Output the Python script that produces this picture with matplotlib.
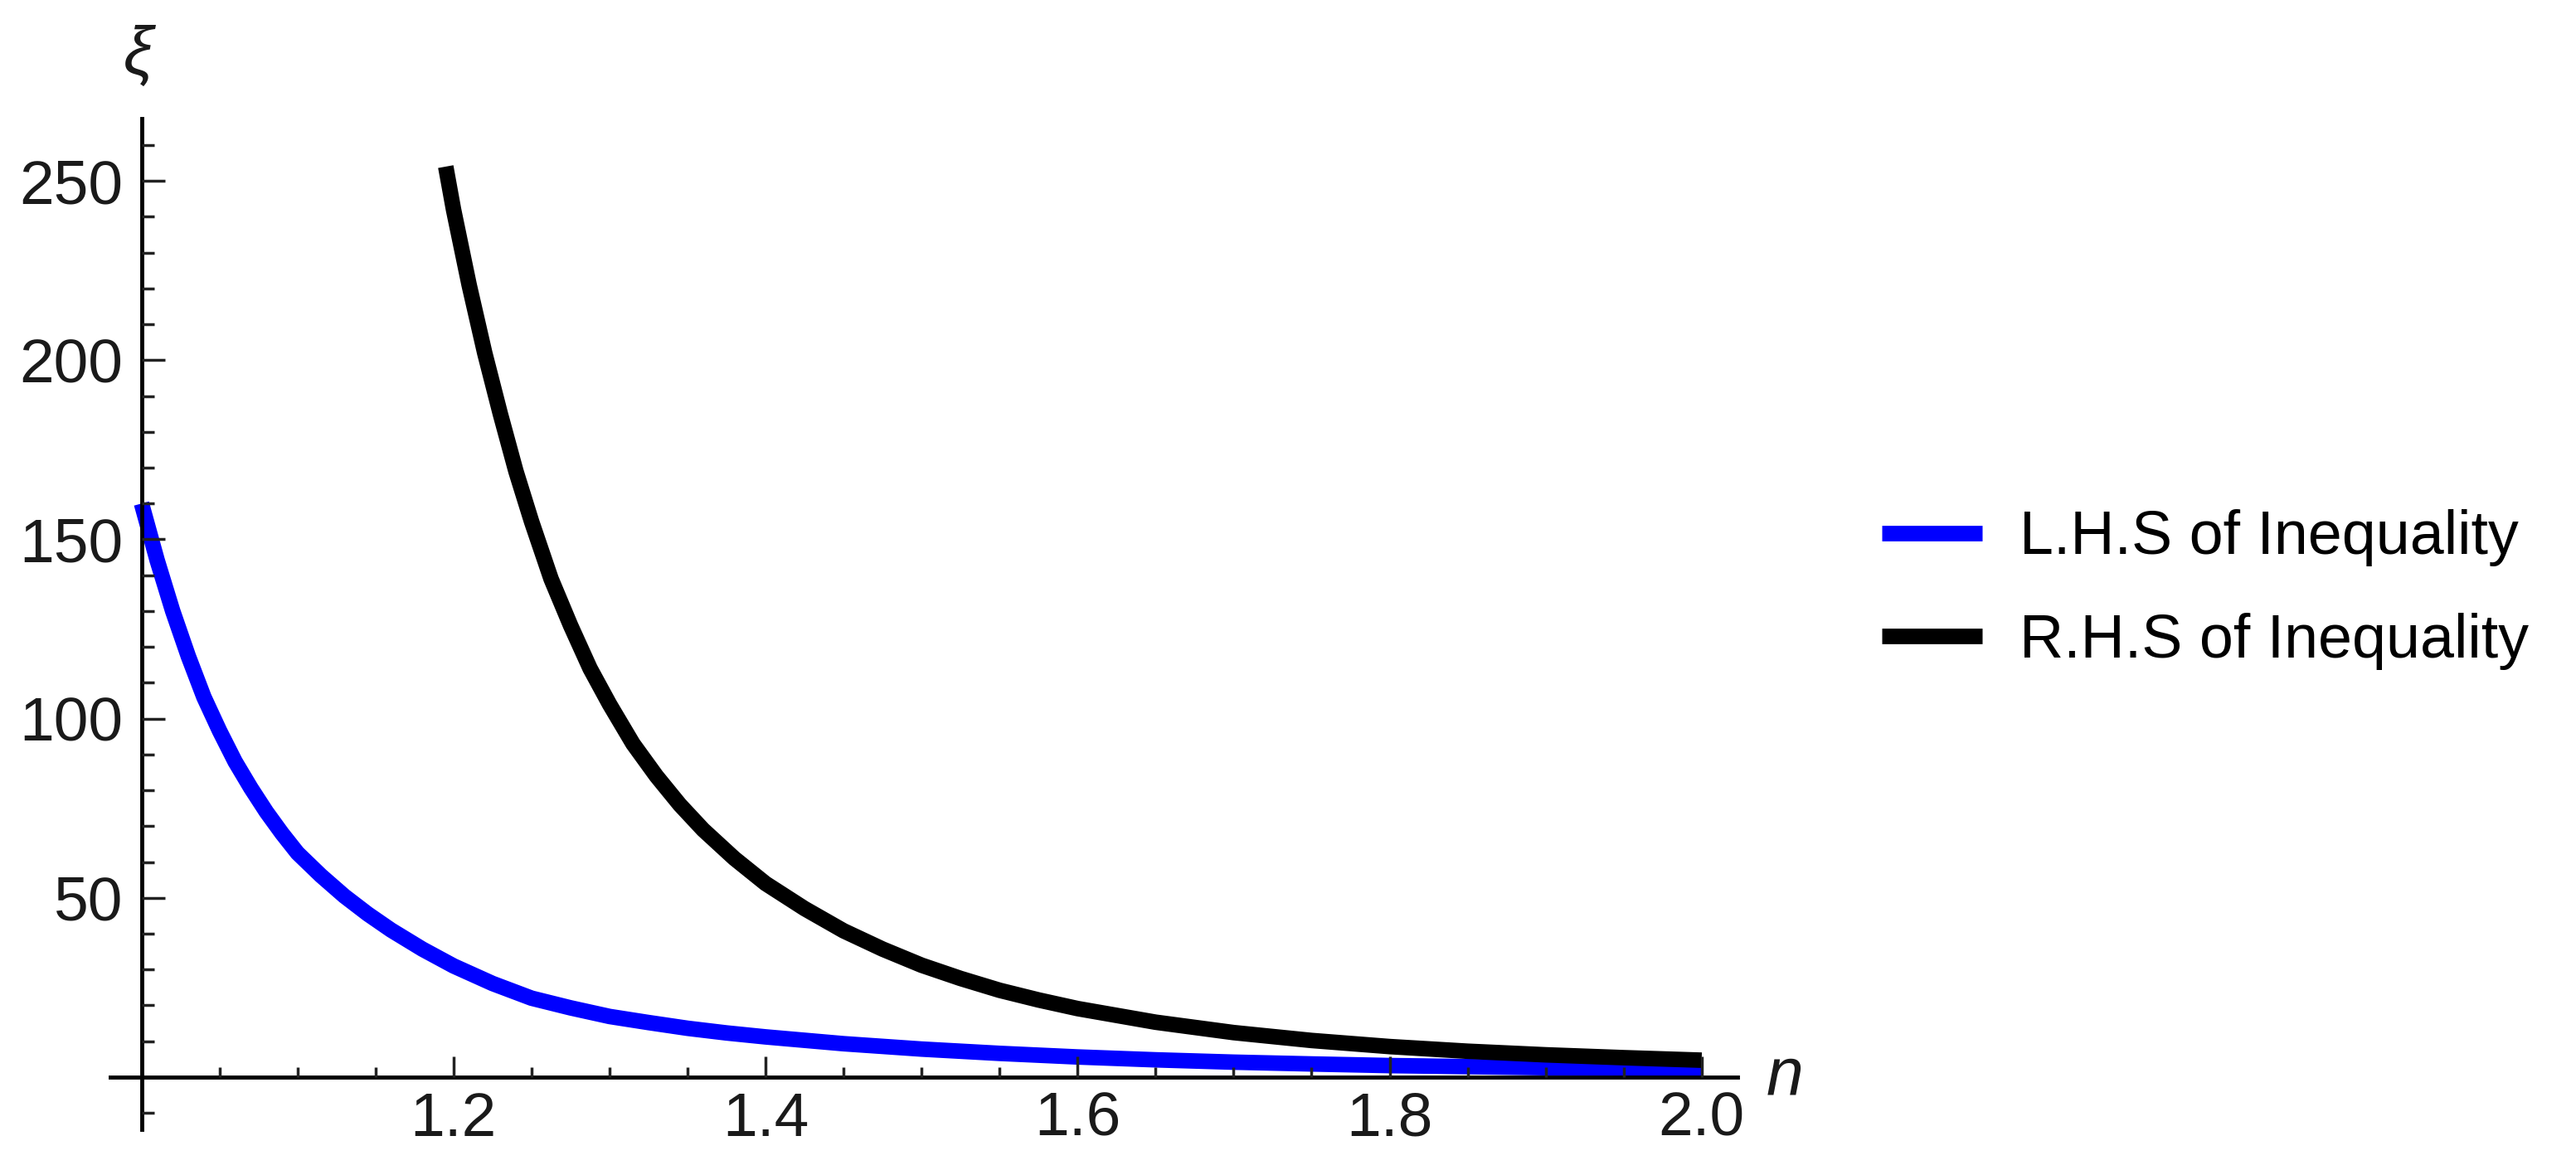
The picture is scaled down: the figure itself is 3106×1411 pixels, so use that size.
import matplotlib
matplotlib.use("Agg")
import matplotlib.pyplot as plt

# curve samples (n, xi)
n_lhs = [1.00, 1.01, 1.02, 1.03, 1.04, 1.05, 1.06, 1.07, 1.08, 1.09, 1.10, 1.115, 1.13,
         1.145, 1.16, 1.18, 1.20, 1.225, 1.25, 1.275, 1.30, 1.325, 1.35, 1.375, 1.40,
         1.45, 1.50, 1.55, 1.60, 1.65, 1.70, 1.75, 1.80, 1.85, 1.90, 1.95, 2.00]
xi_lhs = [160, 144.2, 130, 117.4, 106, 96.6, 88, 80.7, 74, 68.0, 62.5, 56.2, 50.5,
          45.5, 41.0, 35.7, 31.0, 26.1, 22.0, 19.3, 16.9, 15.2, 13.6, 12.3, 11.2,
          9.3, 7.8, 6.6, 5.6, 4.8, 4.15, 3.65, 3.2, 2.9, 2.6, 2.4, 2.2]
n_rhs = [1.195, 1.20, 1.21, 1.22, 1.23, 1.24, 1.25, 1.2625, 1.275, 1.2875, 1.30, 1.315,
         1.33, 1.345, 1.36, 1.38, 1.40, 1.425, 1.45, 1.475, 1.50, 1.525, 1.55, 1.575,
         1.60, 1.65, 1.70, 1.75, 1.80, 1.85, 1.90, 1.95, 2.00]
xi_rhs = [254, 242, 221, 202, 185, 169, 155, 139, 126, 114, 104, 93,
          84, 76, 69, 61, 54, 47.0, 40.8, 35.7, 31.2, 27.5, 24.2, 21.5,
          19.1, 15.3, 12.4, 10.2, 8.5, 7.2, 6.2, 5.4, 4.7]
labels = ["L.H.S of Inequality", "R.H.S of Inequality"]
x_major = [1.2, 1.4, 1.6, 1.8, 2.0]
x_minor = [1.05, 1.10, 1.15, 1.25, 1.30, 1.35, 1.45, 1.50, 1.55, 1.65, 1.70, 1.75, 1.85, 1.90, 1.95]
y_major = [50, 100, 150, 200, 250]
y_minor = [-10, 10, 20, 30, 40, 60, 70, 80, 90, 110, 120, 130, 140, 160, 170, 180, 190,
           210, 220, 230, 240, 260]

plt.rcParams["font.family"] = ["Liberation Sans", "DejaVu Sans"]
fig = plt.figure(figsize=(31.06, 14.11), dpi=100)
ax = fig.add_axes([133/3106, 1 - 1362/1411, (2095-133)/3106, (1362-143)/1411])

ax.plot(n_lhs, xi_lhs, color="#0000ff", lw=13.5, solid_capstyle="butt",
        solid_joinstyle="round", label=labels[0])
ax.plot(n_rhs, xi_rhs, color="black", lw=13.5, solid_capstyle="butt",
        solid_joinstyle="round", label=labels[1])

ax.set_xlim(0.98, 2.023)
ax.set_ylim(-14.6, 267.4)
for s in ["top", "right"]:
    ax.spines[s].set_visible(False)
ax.spines["left"].set_position(("data", 1.0))
ax.spines["bottom"].set_position(("data", 0))
for s in ["left", "bottom"]:
    ax.spines[s].set_linewidth(3.5)
ax.set_axisbelow(False)

ax.set_xticks(x_major)
ax.set_xticklabels([f"{v:.1f}" for v in x_major])
ax.set_xticks(x_minor, minor=True)
ax.set_yticks(y_major)
ax.set_yticks(y_minor, minor=True)
ax.tick_params(which="both", direction="in", width=2.5, color="#222222", labelsize=54,
               labelcolor="#1a1a1a")
ax.tick_params(axis="x", which="major", length=18, pad=12)
ax.tick_params(axis="x", which="minor", length=9)
ax.tick_params(axis="y", which="major", length=20, pad=16)
ax.tick_params(axis="y", which="minor", length=11)

fig.text(167/3106, 1 - 68/1411, "ξ", fontsize=58, style="italic", color="#1a1a1a",
         ha="center", va="center")
fig.text(2152/3106, 1 - 1298/1411, "n", fontsize=58, style="italic", color="#1a1a1a",
         ha="center", va="center")

fig.legend(loc="center left", bbox_to_anchor=(2269/3106, 1 - 711/1411), frameon=False,
           fontsize=53, handlelength=1.65, handletextpad=0.6, labelspacing=0.75,
           borderpad=0, borderaxespad=0)

fig.savefig("out.png", dpi=100)
